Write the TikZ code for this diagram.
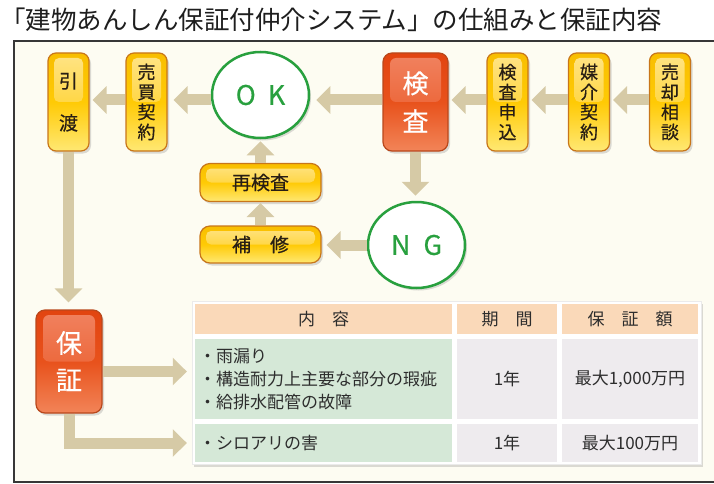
\documentclass[tikz,border=0pt]{standalone}
\usepackage{fontspec}
\setmainfont{Noto Sans CJK JP}
\newfontfamily\medfont[FakeBold=0.6]{Noto Sans CJK JP}
\usetikzlibrary{arrows.meta,shapes.geometric,shadows}
\definecolor{bgc}{RGB}{253,252,242}
\definecolor{framec}{RGB}{55,55,55}
\definecolor{arrowc}{RGB}{214,202,166}
\definecolor{ybord}{RGB}{200,118,26}
\definecolor{ytop}{RGB}{248,190,0}
\definecolor{ymid}{RGB}{255,202,5}
\definecolor{ybot}{RGB}{255,232,115}
\definecolor{yhitop}{RGB}{255,228,135}
\definecolor{ytext}{RGB}{40,30,20}
\definecolor{rbord}{RGB}{185,72,28}
\definecolor{rtop}{RGB}{226,68,16}
\definecolor{rmid}{RGB}{232,82,28}
\definecolor{rbot}{RGB}{242,132,88}
\definecolor{rhitop}{RGB}{241,130,96}
\definecolor{okgreen}{RGB}{40,160,62}
\definecolor{headc}{RGB}{250,217,185}
\definecolor{greenc}{RGB}{213,232,215}
\definecolor{grayc}{RGB}{238,235,238}
\definecolor{tabtext}{RGB}{45,45,45}
\definecolor{titlec}{RGB}{30,30,30}
\tikzset{
  shadowed/.style={drop shadow={shadow xshift=2pt,shadow yshift=-2.5pt,opacity=0.28}},
  ybox/.style={draw=ybord, line width=1.2pt, top color=ytop, bottom color=ybot, middle color=ymid,
    shadowed, text=ytext, align=center, inner sep=0pt,
    path picture={\shade[top color=yhitop, bottom color=ymid, rounded corners=5pt]
      ([shift={(6pt,-5pt)}]path picture bounding box.north west) rectangle
      ([shift={(-6pt,0pt)}]path picture bounding box.east);}},
  vbox/.style={ybox, rounded corners=8pt, minimum width=41pt, minimum height=98pt,
    font=\medfont\fontsize{18}{20}\selectfont},
  hbox/.style={ybox, rounded corners=10pt, minimum width=121pt, minimum height=38pt,
    font=\medfont\fontsize{19}{20}\selectfont},
  rbox/.style={draw=rbord, line width=1.2pt, rounded corners=9pt, top color=rtop, bottom color=rbot, middle color=rmid,
    shadowed, text=white, align=center, inner sep=0pt, minimum width=65pt,
    font=\medfont\fontsize{26}{38}\selectfont,
    path picture={\shade[top color=rhitop, bottom color=rmid, rounded corners=6pt]
      ([shift={(7pt,-5pt)}]path picture bounding box.north west) rectangle
      ([shift={(-7pt,0pt)}]path picture bounding box.east);}},
  okng/.style={ellipse, draw=okgreen, line width=2.5pt, fill=white, minimum width=97pt, minimum height=86pt,
    inner sep=0pt, text=okgreen, font=\medfont\fontsize{27}{28}\selectfont, shadowed},
  flow/.style={line width=11pt, draw=arrowc, -{Triangle[width=27pt,length=14pt]}},
  cell/.style={inner sep=0pt, text=tabtext, font=\fontsize{17}{23}\selectfont, align=center},
}
\begin{document}
\begin{tikzpicture}[x=1pt,y=-1pt]
\useasboundingbox (0,0) rectangle (714,484);
\begin{scope}
\clip (0,0) rectangle (714,484);
\draw[line width=1.4pt, draw=framec, fill=bgc] (14,41) rectangle (724,482);
\end{scope}
\node[anchor=west, inner sep=0pt, font=\fontsize{25.5}{26}\selectfont, text=titlec] (title) at (0,20)
  {「建物あんしん保証付仲介システム」の仕組みと保証内容};

\coordinate (row) at (0,100);
\coordinate (a1) at (0,371.5);

% top row
\node[vbox, font=\medfont\fontsize{19}{42}\selectfont] (hw) at (68.5,102) {引\\渡};
\node[vbox] (bb) at (146.5,102) {売\\買\\契\\約};
\node[okng] (ok) at (260.5,95) {O\hspace{12pt}K};
\node[rbox, minimum height=98pt] (insp) at (415.5,102) {検\\査};
\node[vbox] (apply) at (507.5,102) {検\\査\\申\\込};
\node[vbox] (med) at (589,102) {媒\\介\\契\\約};
\node[vbox] (sell) at (670,102) {売\\却\\相\\談};

\node[hbox] (re) at (260.5,182.5) {再検査};
\node[hbox, minimum height=37pt] (rep) at (260.5,244.5) {補　修};
\node[okng] (ng) at (416.5,245) {N\hspace{13pt}G};

\node[rbox, minimum width=66pt, minimum height=103pt, font=\medfont\fontsize{26}{37}\selectfont] (hosho) at (69,361.5) {保\\証};

% table
\node[fill=white, draw=black!8, line width=0.5pt, minimum width=509pt, minimum height=163pt, shadowed] (tbl) at (446.5,382.5) {};
\node[cell, fill=headc, minimum width=257pt, minimum height=30pt] (h1) at (323.5,319) {内　容};
\node[cell, fill=headc, minimum width=100pt, minimum height=30pt] (h2) at (507,319) {期　間};
\node[cell, fill=headc, minimum width=136pt, minimum height=30pt] (h3) at (630,319) {保　証　額};
\node[cell, fill=greenc, minimum height=80pt, inner xsep=4pt, text width=249pt, align=left] (r1c1) at (323.5,379)
  {・雨漏り\\・構造耐力上主要な部分の瑕疵\\・給排水配管の故障};
\node[cell, fill=grayc, minimum width=100pt, minimum height=80pt] (r1c2) at (507,379) {1年};
\node[cell, fill=grayc, minimum width=136pt, minimum height=80pt] (r1c3) at (630,379) {最大1,000万円};
\node[cell, fill=greenc, minimum height=38pt, inner xsep=4pt, text width=249pt, align=left] (r2c1) at (323.5,443)
  {・シロアリの害};
\node[cell, fill=grayc, minimum width=100pt, minimum height=38pt] (r2c2) at (507,443) {1年};
\node[cell, fill=grayc, minimum width=136pt, minimum height=38pt] (r2c3) at (630,443) {最大100万円};

% connectors
\draw[flow, shorten >=3pt] (sell.west|-row) -- (med.east|-row);
\draw[flow, shorten >=3pt] (med.west|-row) -- (apply.east|-row);
\draw[flow, shorten >=3pt] (apply.west|-row) -- (insp.east|-row);
\draw[flow, shorten >=6pt] (insp.west|-row) -- (ok.east|-row);
\draw[flow, shorten >=6pt] (ok.west|-row) -- (bb.east|-row);
\draw[flow, shorten >=3pt] (bb.west|-row) -- (hw.east|-row);
\draw[flow, shorten >=5pt] (insp.south) -- (insp.south|-ng.north);
\draw[flow, shorten >=5pt] (ng.west) -- (rep.east|-ng.west);
\draw[flow, shorten >=1pt] (rep.north) -- (re.south);
\draw[flow, shorten >=2pt] (re.north) -- (ok.south);
\draw[flow, shorten >=7pt] (hw.south) -- (hw.south|-hosho.north);
\draw[flow, shorten >=8pt] (hosho.east|-a1) -- (r1c1.west|-a1);
\draw[flow, shorten >=8pt] (hosho.south) |- (r2c1.west);
\end{tikzpicture}
\end{document}
